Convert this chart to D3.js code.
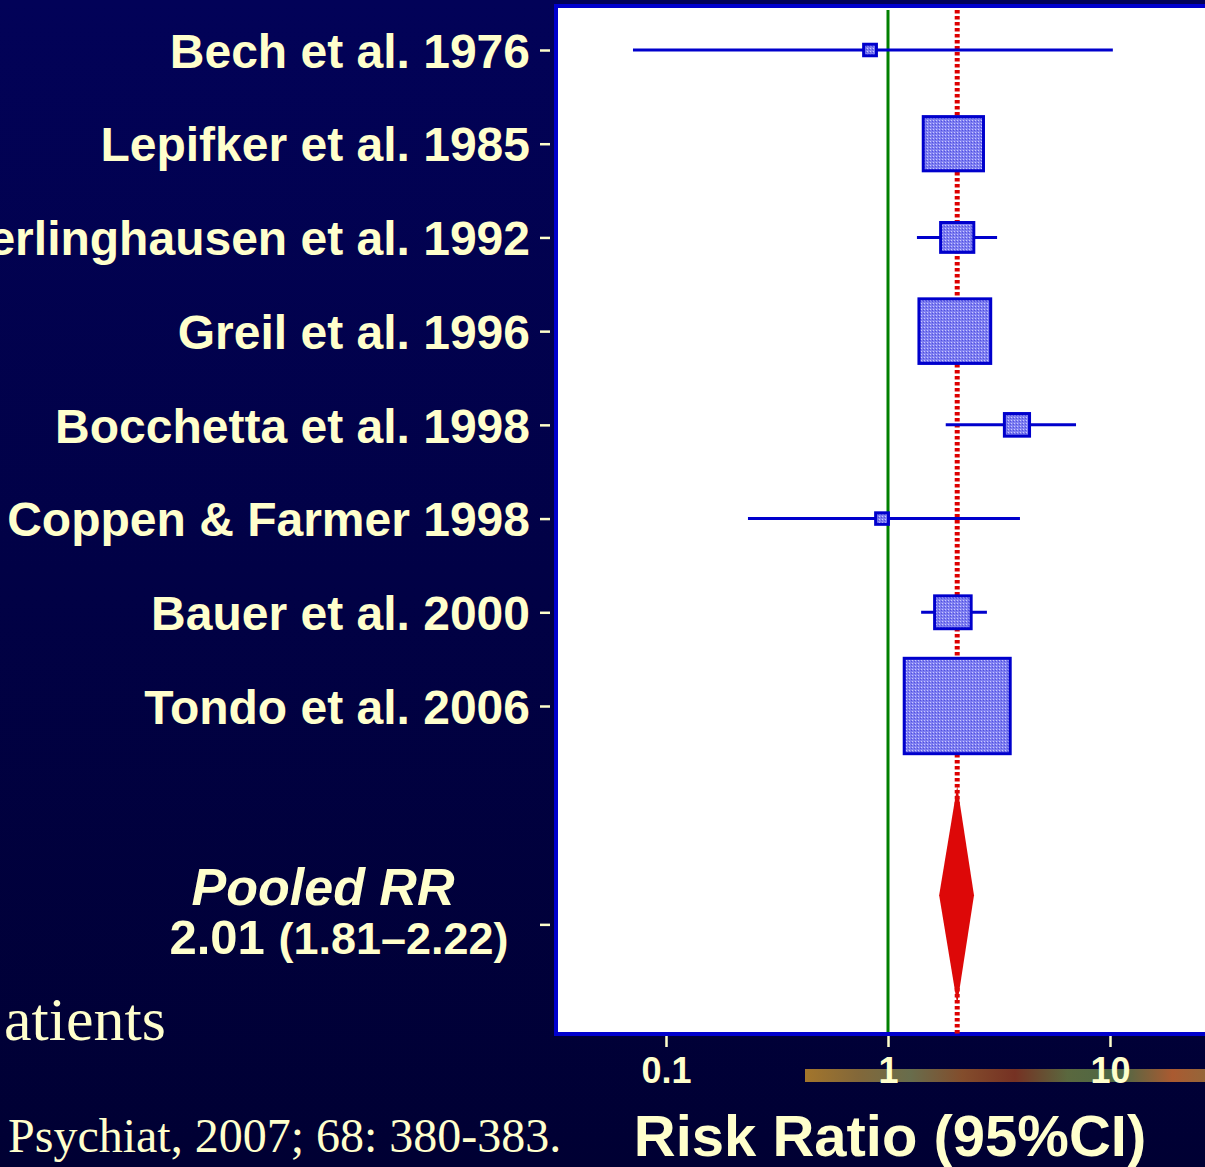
<!DOCTYPE html>
<html lang="en">
<head>
  <meta charset="UTF-8">
  <title>Risk Ratio forest plot</title>
  <style type="text/css">
    body{
      margin: 0;
      background: #000040;
    }
    .study text{
      font-family: "Liberation Sans", Arial, sans-serif;
      font-weight: bold;
      font-size: 48px;
      fill: #ffffcc;
    }
    .axis path{ display: none; }
    .axis line{
      stroke: #ffffcc;
      stroke-width: 2.5px;
    }
    .x.axis text{
      font-family: "Liberation Sans", Arial, sans-serif;
      font-weight: bold;
      font-size: 36px;
      fill: #ffffcc;
    }
    .serif{
      font-family: "Liberation Serif", "Times New Roman", serif;
      fill: #ffffcc;
    }
  </style>
  <script type="text/javascript" src="https://d3js.org/d3.v7.min.js"></script>
</head>
<body>
<script type="text/javascript">
  // studies, top to bottom
  var studies = ['Bech et al. 1976', 'Lepifker et al. 1985', 'M\u00fcller-Oerlinghausen et al. 1992',
    'Greil et al. 1996', 'Bocchetta et al. 1998 ', 'Coppen & Farmer 1998', 'Bauer et al. 2000', 'Tondo et al. 2006'];
  var rr    = [0.83, 1.97, 2.05, 2.00, 3.81, 0.94, 1.96, 2.05];
  var lower = [0.071, 1.60, 1.35, 1.55, 1.82, 0.234, 1.41, 1.50];
  var upper = [10.3, 2.45, 3.10, 2.55, 7.03, 3.93, 2.79, 2.70];
  var weight = [0.7, 15.5, 4.7, 22, 2.7, 0.7, 5.7, 48];

  var pooled = {rr: 2.05, lower: 1.70, upper: 2.44};
  var pooledText = ['Pooled RR', '2.01', '(1.81\u20132.22)'];
  var xTicks = [0.1, 1, 10];

  var W = 1205, H = 1167;
  var svg = d3.select('body').append('svg')
    .attr('width', W).attr('height', H);

  var defs = svg.append('defs');
  var bg = defs.append('linearGradient').attr('id', 'bg')
    .attr('x1', 0).attr('y1', 0).attr('x2', 0).attr('y2', 1);
  bg.append('stop').attr('offset', '0%').attr('stop-color', '#020258');
  bg.append('stop').attr('offset', '100%').attr('stop-color', '#000033');

  var strip = defs.append('linearGradient').attr('id', 'strip');
  ['#c08a2a', '#9a7a3a', '#7a8050', '#9a5a2a', '#8a3a20', '#6a7a40', '#5a7a48', '#c86a30', '#a08040']
    .forEach(function(c, i, a){
      strip.append('stop').attr('offset', (i / (a.length - 1) * 100) + '%').attr('stop-color', c);
    });

  var pat = defs.append('pattern').attr('id', 'dots')
    .attr('width', 3).attr('height', 3).attr('patternUnits', 'userSpaceOnUse');
  pat.append('rect').attr('width', 3).attr('height', 3).attr('fill', '#7e7ef0');
  pat.append('rect').attr('width', 1).attr('height', 1).attr('fill', '#c8c8ff');
  pat.append('rect').attr('x', 2).attr('y', 1).attr('width', 1).attr('height', 1).attr('fill', '#5050e0');

  svg.append('rect').attr('width', W).attr('height', H).attr('fill', 'url(#bg)');

  var plot = {left: 556, top: 6, right: 1212, bottom: 1034};

  var x = d3.scaleLog().domain([0.1, 10]).range([666, 1110]);
  var y = d3.scaleLinear().domain([0, 7]).range([50, 706]);
  var size = d3.scaleSqrt().domain([0, 48]).range([0, 106]);

  // strip behind the tick labels
  svg.append('rect')
    .attr('x', 805).attr('y', 1069).attr('width', 420).attr('height', 13)
    .attr('fill', 'url(#strip)').attr('opacity', 0.85);

  // plot panel
  svg.append('rect')
    .attr('x', plot.left).attr('y', plot.top)
    .attr('width', plot.right - plot.left).attr('height', plot.bottom - plot.top)
    .attr('fill', 'white').attr('stroke', '#0000cc').attr('stroke-width', 4);

  // reference lines
  svg.append('line')
    .attr('x1', x(1)).attr('x2', x(1))
    .attr('y1', plot.top + 4).attr('y2', plot.bottom - 2)
    .attr('stroke', '#008000').attr('stroke-width', 3);

  svg.append('line')
    .attr('x1', x(pooled.rr)).attr('x2', x(pooled.rr))
    .attr('y1', plot.top + 4).attr('y2', plot.bottom + 2)
    .attr('stroke', '#dd0000').attr('stroke-width', 5)
    .attr('stroke-dasharray', '3.5,2.5');

  // confidence intervals
  var rows = d3.range(studies.length);
  svg.selectAll('.ci')
    .data(rows)
    .enter().append('line')
    .attr('class', 'ci')
    .attr('x1', function(i){ return x(lower[i]); })
    .attr('x2', function(i){ return x(upper[i]); })
    .attr('y1', function(i){ return y(i); })
    .attr('y2', function(i){ return y(i); })
    .attr('stroke', '#0000cc').attr('stroke-width', 3);

  // weight boxes
  svg.selectAll('.box')
    .data(rows)
    .enter().append('rect')
    .attr('class', 'box')
    .attr('x', function(i){ return x(rr[i]) - size(weight[i]) / 2; })
    .attr('y', function(i){ return y(i) - size(weight[i]) * 0.45; })
    .attr('width', function(i){ return size(weight[i]); })
    .attr('height', function(i){ return size(weight[i]) * 0.9; })
    .attr('fill', 'url(#dots)')
    .attr('stroke', '#0000cc').attr('stroke-width', 3);

  // pooled diamond
  var yd = y(9.02), half = 109;
  svg.append('path')
    .attr('d', 'M' + x(pooled.lower) + ',' + yd +
               'L' + x(pooled.rr) + ',' + (yd - half) +
               'L' + x(pooled.upper) + ',' + yd +
               'L' + x(pooled.rr) + ',' + (yd + half) + 'Z')
    .attr('fill', '#dd0808');

  // left axis with study names
  var yAxis = d3.axisLeft(y)
    .tickValues(rows.concat([9.33]))
    .tickSize(10)
    .tickPadding(10)
    .tickFormat(function(d){ return d < studies.length ? studies[d] : ''; });

  svg.append('g')
    .attr('class', 'y axis study')
    .attr('transform', 'translate(550,0)')
    .call(yAxis)
    .selectAll('text')
    .attr('dy', '0.36em');

  // pooled label
  svg.append('text')
    .attr('x', 323).attr('y', 905)
    .attr('text-anchor', 'middle')
    .style('font-family', '"Liberation Sans", Arial, sans-serif')
    .style('font-weight', 'bold').style('font-style', 'italic')
    .style('font-size', '52px').style('fill', '#ffffcc')
    .text(pooledText[0]);

  var pr = svg.append('text')
    .attr('x', 339).attr('y', 954)
    .attr('text-anchor', 'middle')
    .style('font-family', '"Liberation Sans", Arial, sans-serif')
    .style('font-weight', 'bold').style('fill', '#ffffcc');
  pr.append('tspan').style('font-size', '49px').text(pooledText[1] + ' ');
  pr.append('tspan').style('font-size', '45px').text(pooledText[2]);

  // x axis
  var xAxis = d3.axisBottom(x)
    .tickValues(xTicks)
    .tickSize(11)
    .tickPadding(10)
    .tickFormat(function(d){ return d; });

  svg.append('g')
    .attr('class', 'x axis')
    .attr('transform', 'translate(0,' + (plot.bottom + 2) + ')')
    .call(xAxis);

  svg.append('text')
    .attr('x', 890).attr('y', 1156)
    .attr('text-anchor', 'middle')
    .style('font-family', '"Liberation Sans", Arial, sans-serif')
    .style('font-weight', 'bold').style('font-size', '58px').style('fill', '#ffffcc')
    .text('Risk Ratio (95%CI)');

  // slide text behind the chart
  svg.append('text')
    .attr('class', 'serif')
    .attr('x', 4).attr('y', 1040)
    .style('font-size', '62px')
    .text('atients');

  svg.append('text')
    .attr('class', 'serif')
    .attr('x', 8).attr('y', 1152)
    .style('font-size', '48px')
    .text('Psychiat, 2007; 68: 380-383.');
</script>
</body>
</html>
